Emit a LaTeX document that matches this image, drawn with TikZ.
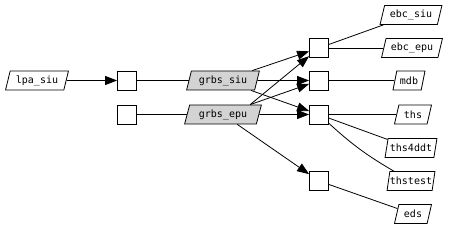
\documentclass[tikz,border=0pt]{standalone}
\usepackage{fontspec}
\setmonofont{DejaVu Sans Mono}
\usetikzlibrary{arrows.meta,shapes.geometric}
\definecolor{shade}{HTML}{D3D3D3}
\tikzset{
  data/.style={trapezium,trapezium left angle=70,trapezium right angle=110,trapezium stretches=true,draw=black,fill=white,line width=0.8pt,inner xsep=0pt,inner ysep=0pt,minimum height=19pt,minimum width=#1,font=\ttfamily\fontsize{10}{11}\selectfont},
  data/.default=30pt,
  job/.style={data=#1,fill=shade},
  gate/.style={draw=black,fill=white,line width=0.8pt,minimum size=19pt,inner sep=0pt},
  link/.style={line width=0.8pt},
  arrow/.style={link,-{Triangle[length=12pt,width=9pt]}},
}
\begin{document}
\begin{tikzpicture}[x=1pt,y=-1pt]
    \useasboundingbox (0,0) rectangle (453,229);
    % inputs
    \node[data=63pt] (lpa) at (37,80.5) {lpa\_siu};
    \node[gate] (in1) at (127,80.5) {};
    \node[gate] (in2) at (127,114.5) {};
    \node[job=73pt] (gsiu) at (223,80.5) {grbs\_siu};
    \node[job=77pt] (gepu) at (223,114.5) {grbs\_epu};
    % outputs
    \node[gate] (ebc) at (319,48) {};
    \node[gate] (mdb) at (319,80.5) {};
    \node[gate] (ths) at (319,114.5) {};
    \node[gate] (eds) at (319,181) {};
    \node[data=62pt] (ebcsiu) at (411,15) {ebc\_siu};
    \node[data=61pt] (ebcepu) at (412,48) {ebc\_epu};
    \node[data=32pt] (mdbout) at (409,80.5) {mdb};
    \node[data=37pt] (thsout) at (413,114.5) {ths};
    \node[data=52pt] (ths4ddt) at (411,148) {ths4ddt};
    \node[data=48pt] (thstest) at (411,181) {thstest};
    \node[data=37pt] (edsout) at (413,214) {eds};
    % edges
    \draw[arrow] (lpa) -- (in1);
    \draw[link] (in1) -- (gsiu);
    \draw[link] (in2) -- (gepu);
    \draw[arrow] (gsiu) -- (ebc);
    \draw[arrow] (gsiu) -- (mdb);
    \draw[arrow] (gsiu) -- (ths);
    \draw[arrow] (gepu.20) -- (ebc);
    \draw[arrow] (gepu.20) -- (mdb);
    \draw[arrow] (gepu) -- (ths);
    \draw[arrow] (gepu) -- (eds);
    \draw[link] (ebc) -- (ebcsiu);
    \draw[link] (ebc) -- (ebcepu);
    \draw[link] (mdb) -- (mdbout);
    \draw[link] (ths) -- (thsout);
    \draw[link] (ths) -- (ths4ddt);
    \draw[link] (ths) to[bend right=6] (thstest);
    \draw[link] (eds) -- (edsout);
\end{tikzpicture}
\end{document}
